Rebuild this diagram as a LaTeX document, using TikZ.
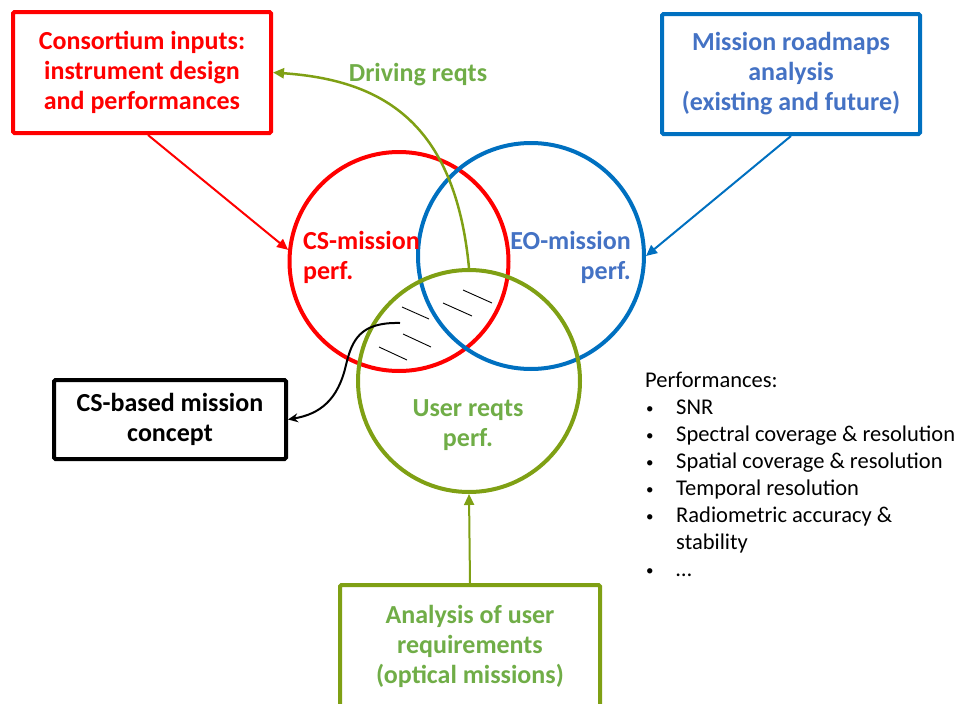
\documentclass[tikz,border=0pt]{standalone}
\usepackage{fontspec}
\setmainfont{Carlito}
\usetikzlibrary{arrows.meta}
\definecolor{cred}{RGB}{255,0,0}
\definecolor{cblue}{RGB}{0,112,192}
\definecolor{tblue}{RGB}{68,114,196}
\definecolor{cgreen}{RGB}{127,160,20}
\definecolor{tgreen}{RGB}{112,173,71}
\begin{document}
\begin{tikzpicture}[x=1pt,y=-1pt,
  boxnode/.style={draw, line width=4pt, inner sep=0pt, align=center,
    font=\bfseries\fontsize{26}{30}\selectfont, rounded corners=1.5pt},
  venn/.style={circle, draw, line width=4pt, inner sep=0pt},
  lbl/.style={font=\bfseries\fontsize{26}{30}\selectfont, inner sep=0pt},
  conn/.style={line width=2pt, -{Triangle[length=11pt,width=10pt]}},
  hatch/.style={black, line width=0.9pt},
  perf/.style={font=\fontsize{22.5}{27}\selectfont, inner sep=0pt, anchor=base west},
  bul/.style={font=\fontsize{15}{27}\selectfont, inner sep=0pt, anchor=base west}]
\useasboundingbox (0,0) rectangle (959,704);
\clip (0,0) rectangle (959,704);

% boxes
\node[boxnode, draw=cred, text=cred, minimum width=258pt, minimum height=121pt] (cons) at (142,72.5)
  {Consortium inputs:\\instrument design\\and performances};
\node[boxnode, draw=cblue, text=tblue, minimum width=258pt, minimum height=120pt] (road) at (791,74)
  {Mission roadmaps\\analysis\\(existing and future)};
\node[boxnode, draw=black, text=black, minimum width=232pt, minimum height=79pt] (concept) at (170,419.5)
  {CS-based mission\\concept};
\node[boxnode, draw=cgreen, text=tgreen, minimum width=260pt, minimum height=122pt] (ana) at (470,646)
  {Analysis of user\\requirements\\(optical missions)};

% circles
\node[venn, draw=cred, minimum size=219pt] (cs) at (399,261.5) {};
\node[venn, draw=cblue, minimum size=226pt] (eo) at (531,256) {};
\node[venn, draw=cgreen, minimum size=222pt] (user) at (469,381) {};

% hatch
\draw[hatch] (463,290) -- (492,303);
\draw[hatch] (443,303) -- (472,316);
\draw[hatch] (402,307) -- (429,319);
\draw[hatch] (403,334) -- (431,347);
\draw[hatch] (379,347) -- (407,360);

% labels
\node[lbl, text=cred, align=left, anchor=west] (csl) at (303,257) {CS-mission\\perf.};
\node[lbl, text=tblue, align=right, anchor=east] (eol) at (631,257) {EO-mission\\perf.};
\node[lbl, text=tgreen, align=center] (userl) at (468,425) {User reqts\\perf.};
\node[lbl, text=tgreen] (drv) at (418,75) {Driving reqts};

% connectors
\coordinate (cs0) at ([xshift=6pt]cons.south);
\draw[conn, cred] (cs0) -- (cs.174);
\draw[conn, cblue] (road.south) -- (eo.east);
\draw[conn, cgreen] (ana.north) -- (user.south);
\draw[cgreen, line width=2.5pt, -{Triangle[length=11pt,width=10pt]}]
  (user.north) .. controls (455,120) and (380,80) .. (cons.east);
\coordinate (hs) at (400,323);
\draw[black, line width=2pt, -{Stealth[length=10pt,width=9pt]}]
  (hs) .. controls (360,322) and (352,340) .. (346,365)
  .. controls (338,400) and (320,414) .. (concept.east);

% performances list
\node[perf] (p0) at (645,387) {Performances:};
\node[bul] (b1) at (646,413) {•};
\node[perf] (p1) at (676,414) {SNR};
\node[bul] (b2) at (646,440) {•};
\node[perf] (p2) at (676,441) {Spectral coverage \& resolution};
\node[bul] (b3) at (646,467) {•};
\node[perf] (p3) at (676,468) {Spatial coverage \& resolution};
\node[bul] (b4) at (646,494) {•};
\node[perf] (p4) at (676,495) {Temporal resolution};
\node[bul] (b5) at (646,521) {•};
\node[perf] (p5) at (676,522) {Radiometric accuracy \&};
\node[perf] (p5b) at (676,549) {stability};
\node[bul] (b6) at (646,575) {•};
\node[perf] (p6) at (676,576) {…};
\end{tikzpicture}
\end{document}
